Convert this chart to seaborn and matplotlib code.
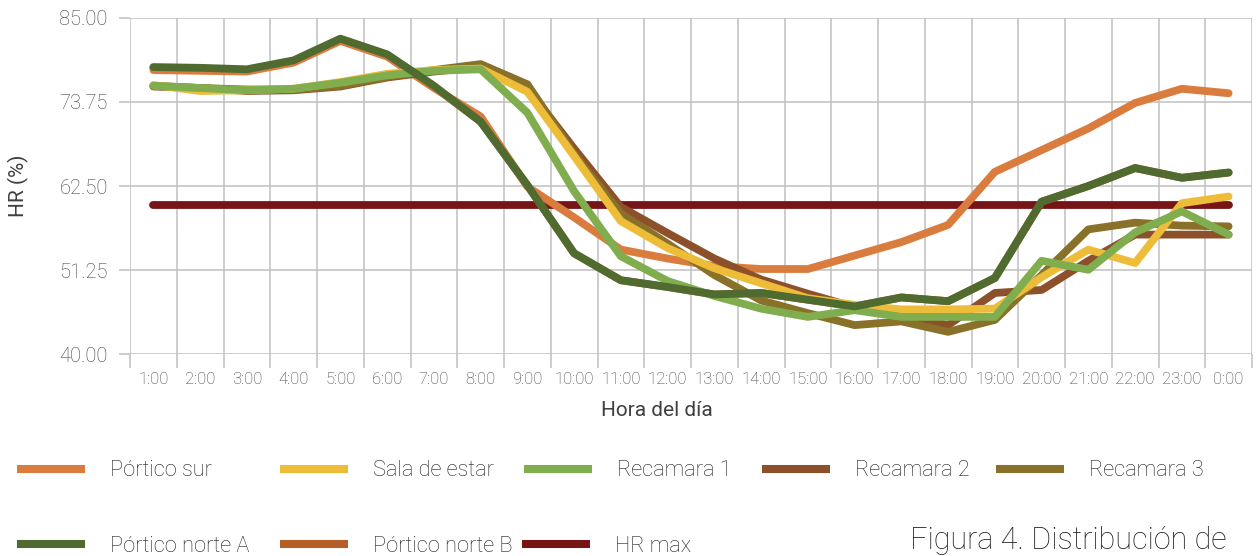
import matplotlib
matplotlib.use("Agg")
import matplotlib.pyplot as plt
import seaborn as sns
import pandas as pd
from matplotlib.lines import Line2D

# ---------------- data ----------------
hours = ["1:00", "2:00", "3:00", "4:00", "5:00", "6:00", "7:00", "8:00", "9:00", "10:00",
         "11:00", "12:00", "13:00", "14:00", "15:00", "16:00", "17:00", "18:00", "19:00",
         "20:00", "21:00", "22:00", "23:00", "0:00"]

portico_sur = [78.0, 77.9, 77.8, 79.0, 81.9, 79.8, 75.6, 71.8, 62.4, 58.3, 54.0, 52.8,
               51.8, 51.4, 51.4, 53.2, 55.0, 57.3, 64.4, 67.3, 70.2, 73.6, 75.5, 74.9]
sala_estar = [76.0, 75.2, 75.3, 75.5, 76.4, 77.5, 78.0, 78.2, 75.1, 66.5, 57.8, 54.2,
              51.5, 49.5, 47.5, 46.6, 46.0, 46.0, 46.1, 50.3, 54.0, 52.2, 60.2, 61.1]
recamara_1 = [75.9, 75.6, 75.3, 75.5, 76.3, 77.3, 77.9, 78.1, 72.3, 61.8, 53.1, 49.8,
              47.8, 46.1, 45.0, 45.9, 45.0, 45.0, 45.0, 52.5, 51.3, 56.3, 59.1, 56.0]
recamara_2 = [75.8, 75.6, 75.2, 75.3, 75.8, 77.0, 77.8, 78.4, 75.6, 67.5, 59.7, 56.2,
              52.8, 50.0, 48.1, 46.3, 45.2, 43.9, 48.2, 48.6, 52.5, 56.0, 56.0, 56.0]
recamara_3 = [75.9, 75.6, 75.4, 75.4, 75.9, 77.1, 78.0, 78.8, 76.1, 66.8, 58.8, 54.8,
              50.6, 47.2, 45.5, 43.9, 44.4, 43.0, 44.6, 50.6, 56.7, 57.6, 57.2, 57.1]
portico_norte_a = [78.4, 78.3, 78.1, 79.3, 82.2, 80.1, 75.9, 71.1, 62.6, 53.5, 49.9, 49.0,
                   48.0, 48.2, 47.3, 46.4, 47.6, 47.1, 50.2, 60.4, 62.5, 64.9, 63.6, 64.3]
portico_norte_b = [78.3, 78.2, 78.0, 79.2, 82.1, 80.0, 75.8, 71.1, 62.6, 53.5, 49.9, 49.0,
                   48.0, 48.2, 47.3, 46.4, 47.6, 47.1, 50.2, 60.4, 62.5, 64.9, 63.6, 64.3]
hr_max = [60.0] * 24

series_names = ["Pórtico sur", "Sala de estar", "Recamara 1", "Recamara 2", "Recamara 3",
                "Pórtico norte A", "Pórtico norte B", "HR max"]
series_values = [portico_sur, sala_estar, recamara_1, recamara_2, recamara_3,
                 portico_norte_a, portico_norte_b, hr_max]
y_ticks = [40.00, 51.25, 62.50, 73.75, 85.00]

# ---------------- style ----------------
colors = {"Pórtico sur": "#DA7C3E", "Sala de estar": "#EDBD3A", "Recamara 1": "#80AE4F",
          "Recamara 2": "#8C512B", "Recamara 3": "#8A7129", "Pórtico norte A": "#4F6B30",
          "Pórtico norte B": "#B55E26", "HR max": "#761416"}
zorders = {"HR max": 2.0, "Pórtico norte B": 2.2, "Pórtico sur": 2.4, "Recamara 2": 2.6,
           "Recamara 3": 2.8, "Sala de estar": 3.0, "Recamara 1": 3.2, "Pórtico norte A": 3.4}

sns.set_theme(style="white")
plt.rcParams["font.family"] = ["Roboto", "DejaVu Sans"]
plt.rcParams["font.weight"] = "light"

W, H = 1258, 556
fig = plt.figure(figsize=(W / 100, H / 100), dpi=100)
ax_l, ax_r, ax_t, ax_b = 130, 1252, 17.7, 354.3
ax = fig.add_axes([ax_l / W, 1 - ax_b / H, (ax_r - ax_l) / W, (ax_b - ax_t) / H])

for name, vals in zip(series_names, series_values):
    df = pd.DataFrame({"hora": hours, "hr": vals})
    sns.lineplot(data=df, x="hora", y="hr", ax=ax, color=colors[name], lw=5.6,
                 sort=False, zorder=zorders[name], solid_capstyle="round",
                 solid_joinstyle="round", legend=False, errorbar=None)

grid_c = "#C0C0C0"
txt_c = "#404040"
ax.set_xlim(-0.5, len(hours) - 0.5)
ax.set_ylim(40, 85)
for s in ax.spines.values():
    s.set_visible(False)

ax.set_xticks(range(len(hours)))
ax.set_xticklabels(hours)
ax.set_xticks([i - 0.5 for i in range(len(hours) + 1)], minor=True)
ax.tick_params(axis="x", which="major", length=0, pad=13.0, labelsize=12, labelcolor=txt_c)
ax.tick_params(axis="x", which="minor", length=10, width=1.1, color=grid_c, direction="out", bottom=True)
ax.set_yticks(y_ticks)
ax.set_yticklabels([f"{v:.2f}" for v in y_ticks])
ax.tick_params(axis="y", which="major", length=8, width=1.1, color=grid_c, pad=8,
               labelsize=14.5, labelcolor=txt_c, left=True)
ax.grid(False)
ax.xaxis.grid(True, which="minor", color=grid_c, lw=1.1)
ax.yaxis.grid(True, which="major", color=grid_c, lw=1.1)
ax.set_axisbelow(True)

ax.set_ylabel("HR (%)", fontsize=15, color=txt_c)
ax.yaxis.set_label_coords((18 - ax_l) / (ax_r - ax_l), 0.5)
ax.yaxis.label.set_verticalalignment("center")
ax.set_xlabel("Hora del día", fontsize=15, color=txt_c)
ax.xaxis.set_label_coords((657 - ax_l) / (ax_r - ax_l), (ax_b - 411) / (ax_b - ax_t))
ax.xaxis.label.set_verticalalignment("center")

# legend entries (one legend per entry to reproduce the flow layout)
legend_pos = {"Pórtico sur": (17, 471), "Sala de estar": (280, 471), "Recamara 1": (524, 471),
              "Recamara 2": (762, 471), "Recamara 3": (996, 471),
              "Pórtico norte A": (17, 546), "Pórtico norte B": (280, 546), "HR max": (522, 546)}
leg_fs = 15.7
for name in series_names:
    xp, yp = legend_pos[name]
    h = Line2D([], [], color=colors[name], lw=5.8, solid_capstyle="butt")
    fig.legend([h], [name], loc="center left", bbox_to_anchor=(xp / W, 1 - yp / H),
               frameon=False, fontsize=leg_fs, handlelength=3.1, handletextpad=1.15,
               borderpad=0, borderaxespad=0, labelcolor="#1f1f1f")

fig.text(910 / W, 1 - 555 / H, "Figura 4. Distribución de", fontsize=22, ha="left",
         va="bottom", color="#1f1f1f")

fig.savefig("out.png", dpi=100)
